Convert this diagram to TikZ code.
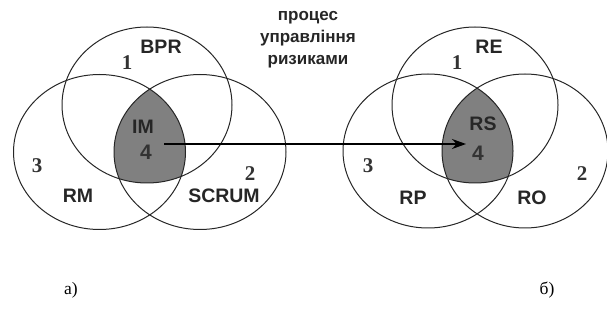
\documentclass[tikz,border=0pt]{standalone}
\usepackage{fontspec}
\setmainfont{Liberation Serif}
\setsansfont{Liberation Sans}
\usetikzlibrary{arrows.meta}

\begin{document}
\begin{tikzpicture}[x=1pt,y=-1pt,
  ring/.style={draw=black!85, line width=1pt},
  core/.style={fill=black!50},
  lbl/.style={font=\sffamily\bfseries\fontsize{19.5}{19.5}\selectfont, inner sep=0pt, text=black!85},
  num/.style={font=\bfseries\fontsize{21}{21}\selectfont, inner sep=0pt, text=black!80},
  snum/.style={font=\sffamily\bfseries\fontsize{21}{21}\selectfont, inner sep=0pt, text=black!80},
  subcap/.style={font=\fontsize{17.5}{17.5}\selectfont, inner sep=0pt},
  head/.style={font=\sffamily\bfseries\fontsize{17}{22}\selectfont, align=center, inner sep=0pt, text=black!85},
  link/.style={line width=1.4pt, -{Stealth[length=14pt, width=10pt]}}]
\useasboundingbox (0,0) rectangle (607,320);

% ---------- a) BPR / SCRUM / RM ----------
\def\Atop{(147,105) ellipse [x radius=85pt, y radius=78pt]}
\def\Aleft{(99.5,152) ellipse [x radius=86pt, y radius=77.5pt]}
\def\Aright{(200,152) ellipse [x radius=86pt, y radius=77.5pt]}
\begin{scope}
  \clip \Atop;
  \clip \Aleft;
  \fill[core] \Aright;
\end{scope}
\draw[ring] \Atop;
\draw[ring] \Aleft;
\draw[ring] \Aright;

% ---------- b) RE / RO / RP ----------
\def\Btop{(475,105) ellipse [x radius=83pt, y radius=78pt]}
\def\Bleft{(428,151) ellipse [x radius=85pt, y radius=77pt]}
\def\Bright{(525,151) ellipse [x radius=83pt, y radius=77pt]}
\begin{scope}
  \clip \Btop;
  \clip \Bleft;
  \fill[core] \Bright;
\end{scope}
\draw[ring] \Btop;
\draw[ring] \Bleft;
\draw[ring] \Bright;

% labels of the first diagram
\node[lbl] (bpr) at (161,47) {BPR};
\node[num] (a1) at (127,63) {1};
\node[lbl] (im) at (143,127) {IM};
\node[snum] (a4) at (146,152) {4};
\node[num] (a3) at (37,166) {3};
\node[lbl] (rm) at (78,196) {RM};
\node[num] (a2) at (250,174) {2};
\node[lbl] (scrum) at (224,196) {SCRUM};

% labels of the second diagram
\node[lbl] (re) at (489,47) {RE};
\node[num] (b1) at (457,63) {1};
\node[lbl] (rs) at (483,124) {RS};
\node[snum] (b4) at (478,153) {4};
\node[num] (b3) at (368,166) {3};
\node[lbl] (rp) at (413,198) {RP};
\node[lbl] (ro) at (532,198) {RO};
\node[num] (b2) at (582,174) {2};

% process link between the two cores
\node[head] (proc) at (308,40) {процес\\управління\\ризиками};
\coordinate (from) at (164,144);
\coordinate (to) at (466,144);
\draw[link] (from) -- (to);

% sub-figure captions
\node[subcap] (capa) at (71,290) {а)};
\node[subcap] (capb) at (547,290) {б)};
\end{tikzpicture}
\end{document}
